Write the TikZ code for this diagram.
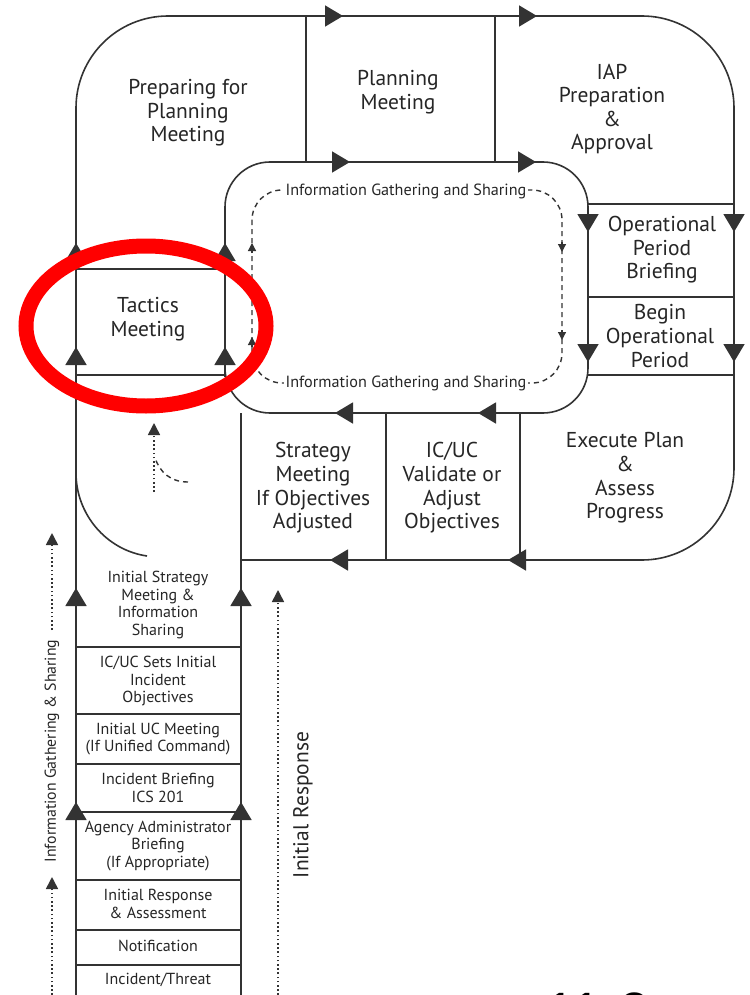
\documentclass[tikz,border=0pt]{standalone}
\usepackage{fontspec}
\setsansfont{PT Sans}
\newfontfamily\numfont{Liberation Sans}
\usetikzlibrary{arrows.meta}

\begin{document}
\begin{tikzpicture}[
    x=1pt, y=-1pt,
    font=\sffamily,
    big/.style={align=center, text=black!85, font=\sffamily\fontsize{21.5}{23.6}\selectfont},
    small/.style={align=center, text=black!85, font=\sffamily\fontsize{16}{17.6}\selectfont},
    note/.style={text=black!85, fill=white, inner xsep=2pt, inner ysep=1pt, font=\sffamily\fontsize{16.2}{17}\selectfont},
    border/.style={draw=black!80, line width=1.6pt},
    bigtip/.style={draw=black!80, line width=1.6pt, -{Triangle[length=18pt, width=21pt]}},
    smalltip/.style={-{Triangle[length=8pt, width=8pt]}},
    medtip/.style={-{Triangle[length=12pt, width=12pt]}},
    dashloop/.style={draw=black!80, line width=1.4pt, dash pattern=on 5pt off 4pt},
    dotline/.style={draw=black!80, line width=1.6pt, dash pattern=on 1.6pt off 2.6pt},
    ring/.style={draw=red, line width=15pt}
]
\useasboundingbox (0,0) rectangle (749,995);
\fill[white] (0,0) rectangle (749,995);

% Outer loop and inner loop
\draw[border, rounded corners=92pt] (76,995) -- (76,16) -- (734,16) -- (734,560) -- (241,560);
\draw[border] (241,413) -- (241,995);
\draw[border, rounded corners=45pt] (225,162) rectangle (588,413);
\draw[border] (76,473) .. controls (76,514) and (106,550) .. (147,556);

% Dividers
\draw[border] (306,16) -- (306,162);
\draw[border] (495,16) -- (495,162);
\draw[border] (588,204) -- (734,204);
\draw[border] (588,297) -- (734,297);
\draw[border] (588,375) -- (734,375);
\draw[border] (386,413) -- (386,560);
\draw[border] (520,413) -- (520,560);
\draw[border] (76,269) -- (225,269);
\draw[border] (76,375) -- (225,375);
\foreach \y in {647,714,764,812,880,930,965}
    \draw[border] (76,\y) -- (241,\y);

% Flow arrows
\draw[bigtip] (313,16) -- (343,16);
\draw[bigtip] (507,16) -- (537,16);
\draw[bigtip] (320,162) -- (350,162);
\draw[bigtip] (506,162) -- (536,162);
\foreach \x in {588,734} {
    \draw[bigtip] (\x,212) -- (\x,232);
    \draw[bigtip] (\x,332) -- (\x,362);
}
\draw[bigtip] (508,413) -- (478,413);
\draw[bigtip] (365,413) -- (335,413);
\draw[bigtip] (538,560) -- (508,560);
\draw[bigtip] (360,560) -- (330,560);
\foreach \x in {76,225} {
    \draw[bigtip] (\x,273) -- (\x,243);
    \draw[bigtip] (\x,377) -- (\x,347);
}
\foreach \x in {76,241} {
    \draw[bigtip] (\x,618) -- (\x,588);
    \draw[bigtip] (\x,832) -- (\x,802);
}

% Cycle steps
\node[big] (prep) at (188,113) {Preparing for\\Planning\\Meeting};
\node[big] (plan) at (398,92) {Planning\\Meeting};
\node[big] (iap) at (612,109) {IAP\\Preparation\\\&\\Approval};
\node[big] (opb) at (662,250) {Operational\\Period\\Briefing};
\node[big] (bop) at (660,336) {Begin\\Operational\\Period};
\node[big] (exe) at (625,478) {Execute Plan\\\&\\Assess\\Progress};
\node[big] (val) at (452,488) {IC/UC\\Validate or\\Adjust\\Objectives};
\node[big] (strat) at (313,488) {Strategy\\Meeting\\If Objectives\\Adjusted};
\node[big] (tac) at (148,319) {Tactics\\Meeting};

% Initial response steps
\node[small] (isi) at (158,605) {Initial Strategy\\Meeting \&\\Information\\Sharing};
\node[small] (obj) at (158,681) {IC/UC Sets Initial\\Incident\\Objectives};
\node[small] (ucm) at (158,739) {Initial UC Meeting\\(If Unified Command)};
\node[small] (brief) at (158,788) {Incident Briefing\\ICS 201};
\node[small] (aab) at (158,846) {Agency Administrator\\Briefing\\(If Appropriate)};
\node[small] (ira) at (158,904) {Initial Response\\\& Assessment};
\node[small] (noti) at (158,946) {Notification};
\node[small] (thr) at (158,980) {Incident/Threat};

% Information gathering loop
\draw[dashloop, rounded corners=30pt] (252,190) rectangle (562,383);
\node[note] (igst) at (406,191) {Information Gathering and Sharing};
\node[note] (igsb) at (406,383) {Information Gathering and Sharing};
\draw[draw=black!80, line width=1.2pt, smalltip] (252,253) -- (252,243);
\draw[draw=black!80, line width=1.2pt, smalltip] (252,347) -- (252,337);
\draw[draw=black!80, line width=1.2pt, smalltip] (562,242) -- (562,252);
\draw[draw=black!80, line width=1.2pt, smalltip] (562,330) -- (562,340);

% Side labels
\coordinate (igsfoot) at (52,995);
\coordinate (igshead) at (52,533);
\coordinate (irfoot) at (278,995);
\coordinate (irhead) at (278,590);
\coordinate (tacfoot) at (154,492);
\coordinate (tachead) at (154,423);
\coordinate (tacjoin) at (188,482);
\node[note, rotate=90, inner sep=0pt, font=\sffamily\fontsize{15.8}{17}\selectfont] (igsl) at (52,751) {Information Gathering \& Sharing};
\node[rotate=90, text=black!85, font=\sffamily\fontsize{21.5}{23}\selectfont] (ir) at (303,805) {Initial Response};
\draw[dotline, medtip] (igsfoot) -- (52,877);
\draw[dotline, medtip] (52,630) -- (igshead);
\draw[dotline, medtip] (irfoot) -- (irhead);
\draw[dotline, medtip] (tacfoot) -- (tachead);
\draw[dashloop] (tacjoin) .. controls (170,482) and (160,472) .. (155,458);

% Highlight
\draw[ring] (146,326) ellipse [x radius=120pt, y radius=80pt];

% Slide number
\node[anchor=base west, font=\numfont\fontsize{54}{60}\selectfont, inner sep=0pt] (num) at (545,1030) {11-2};
\end{tikzpicture}
\end{document}
